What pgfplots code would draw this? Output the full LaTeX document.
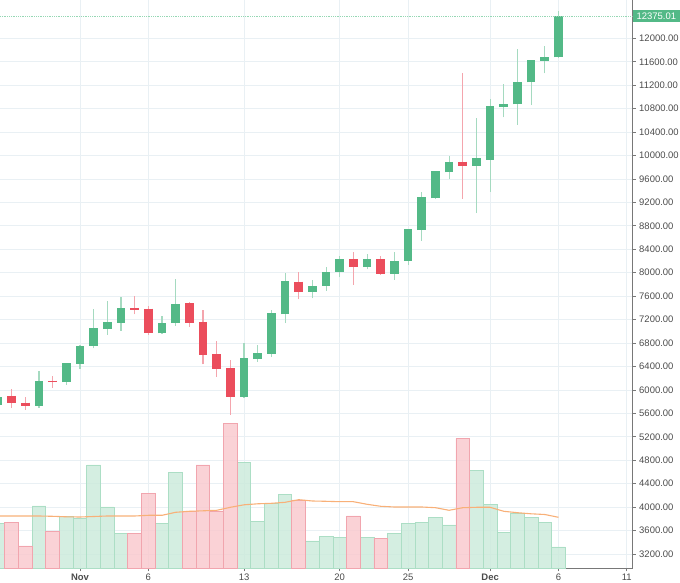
\documentclass[border=0pt]{standalone}
\usepackage{fontspec}
\setmainfont{Liberation Sans}
\usepackage{pgfplots}
\pgfplotsset{compat=1.18}
\usepackage{pgfplotstable}

\definecolor{cgreen}{RGB}{83,185,135}
\definecolor{cred}{RGB}{235,77,92}
\definecolor{wgreen}{RGB}{165,218,192}
\definecolor{wred}{RGB}{244,165,173}
\definecolor{vgreen}{RGB}{204,235,220}
\definecolor{vgreenb}{RGB}{172,222,197}
\definecolor{vred}{RGB}{249,202,207}
\definecolor{vredb}{RGB}{241,165,174}
\definecolor{gridc}{RGB}{233,240,244}
\definecolor{axisc}{RGB}{120,120,120}
\definecolor{labc}{RGB}{75,75,75}
\definecolor{maorange}{RGB}{248,176,120}
\definecolor{pline}{RGB}{150,215,180}

% day index: Nov 1 = 0
\pgfplotstableread{
d o c h l
-6 5744 5886 5950 5720
-3 5727 6153 6329 5698
-1 6131 6455 6460 6085
0 6443 6751 6760 6353
1 6751 7053 7377 6711
2 7036 7160 7518 6939
3 7148 7399 7592 7007
6 6967 7148 7262 6960
7 7138 7462 7894 7092
12 5875 6541 6797 5860
13 6524 6626 6768 6483
14 6614 7308 7365 6558
15 7291 7860 8000 7138
17 7677 7780 7877 7564
18 7774 8018 8093 7689
19 8018 8230 8286 7923
21 8094 8230 8320 8059
23 7979 8206 8349 7877
24 8201 8742 8750 8132
25 8725 9287 9373 8547
26 9270 9731 9740 9260
27 9714 9885 9992 9600
29 9827 9953 10635 9015
30 9924 10845 10964 9383
31 10833 10884 11215 10652
32 10874 11260 11812 10521
33 11249 11625 11630 10862
34 11613 11681 11869 11403
35 11676 12375 12466 11660
}\greenc

\pgfplotstableread{
d o c h l
-5 5898 5773 6017 5688
-4 5784 5727 5886 5659
-2 6159 6131 6239 6040
4 7399 7370 7609 7291
5 7387 6967 7433 6939
8 7479 7148 7507 7080
9 7160 6597 7365 6438
10 6609 6353 6836 6227
11 6370 5875 6512 5574
16 7848 7677 8008 7547
20 8230 8104 8359 7791
22 8230 7979 8291 7962
28 9895 9827 11413 9258
}\redc

\pgfplotstableread{
d v
-6 45
-3 62.3
-1 51.7
0 50
1 103.3
2 61.3
3 35
6 45
7 95.7
12 105.7
13 46.7
14 65
15 74
17 27.3
18 31.7
19 30.7
21 30.7
23 35
24 45
25 45.7
26 50.7
27 43.3
29 98
30 64
31 35.7
32 54.7
33 50.7
34 45.7
35 21.3
}\greenv

\pgfplotstableread{
d v
-5 45.7
-4 22.3
-2 36.7
4 35
5 75
8 57.3
9 103.3
10 57.3
11 144.7
16 68.3
20 52.3
22 30
28 129.7
}\redv

\pgfplotstableread{
d m
-6 52.3
-5 52.3
-4 52.3
-3 52.3
-2 52
-1 51.5
0 51.3
1 51.8
2 52.3
3 52.3
4 52.3
5 53
6 53
7 56
8 57
9 57.5
10 58
11 61
12 63.5
13 64.5
14 65
15 66
16 68.6
17 67.3
18 67
19 66.6
20 66.6
21 64
22 62
23 61.3
24 61.3
25 61.3
26 60.6
27 58
28 60.6
29 61
30 61
31 57
32 55.6
33 54.5
34 53.8
35 51
}\mav

\begin{document}
\begin{tikzpicture}
\path[use as bounding box] (0,0) rectangle (680bp,583bp);
\begin{axis}[
  at={(0,14.7bp)}, anchor=south west,
  scale only axis, width=632.7bp, height=568.3bp,
  xmin=-5.852, xmax=40.43, ymin=2956, ymax=12654,
  axis x line*=bottom, axis y line*=right,
  axis line style={draw=axisc, -, line width=0.8bp},
  clip mode=individual,
  grid=major, major grid style={draw=gridc, line width=0.8bp},
  ytick={3200,3600,...,12000},
  xtick={0,5,12,19,24,30,35,40},
  xticklabels={\textbf{Nov},6,13,20,25,\textbf{Dec},6,11},
  scaled y ticks=false,
  yticklabel style={/pgf/number format/.cd, fixed, fixed zerofill, precision=2, 1000 sep={}},
  /pgf/number format/assume math mode=true,
  tick label style={font=\fontsize{9.5}{11}\selectfont, text=labc},
  tick align=outside, major tick length=3bp,
  tick style={draw=axisc, line width=0.8bp},
  xticklabel style={yshift=1bp},
]
% wicks
\addplot[wgreen, line width=1.1bp, -, quiver={u=0, v=\thisrow{h}-\thisrow{l}}] table[x=d, y=l] {\greenc};
\addplot[wred, line width=1.1bp, -, quiver={u=0, v=\thisrow{h}-\thisrow{l}}] table[x=d, y=l] {\redc};
% bodies
\addplot[cgreen, line width=8.7bp, -, quiver={u=0, v=\thisrow{c}-\thisrow{o}}] table[x=d, y=o] {\greenc};
\addplot[cred, line width=8.7bp, -, quiver={u=0, v=\thisrow{c}-\thisrow{o}}] table[x=d, y=o] {\redc};
% last price line
\addplot[pline, line width=0.8bp, dash pattern=on 1bp off 0.8bp] coordinates {(-5.852,12375) (40.43,12375)};
\node[fill=cgreen, text=white, anchor=west, minimum width=47bp, minimum height=12bp, inner sep=0pt,
      font=\fontsize{9.5}{11}\selectfont] at (axis cs:40.43,12375) {12375.01};
\end{axis}
\begin{axis}[
  at={(0,14.7bp)}, anchor=south west,
  scale only axis, width=632.7bp, height=568.3bp,
  xmin=-5.852, xmax=40.43, ymin=0, ymax=568.3,
  hide axis,
]
\addplot[ybar, bar width=1, bar shift=0pt, fill=vgreen, fill opacity=0.85, draw=vgreenb, line width=0.8bp] table[x=d, y=v] {\greenv};
\addplot[ybar, bar width=1, bar shift=0pt, fill=vred, fill opacity=0.85, draw=vredb, line width=0.8bp] table[x=d, y=v] {\redv};
\addplot[maorange, line width=1.1bp, mark=none] table[x=d, y=m] {\mav};
\end{axis}
\end{tikzpicture}
\end{document}
